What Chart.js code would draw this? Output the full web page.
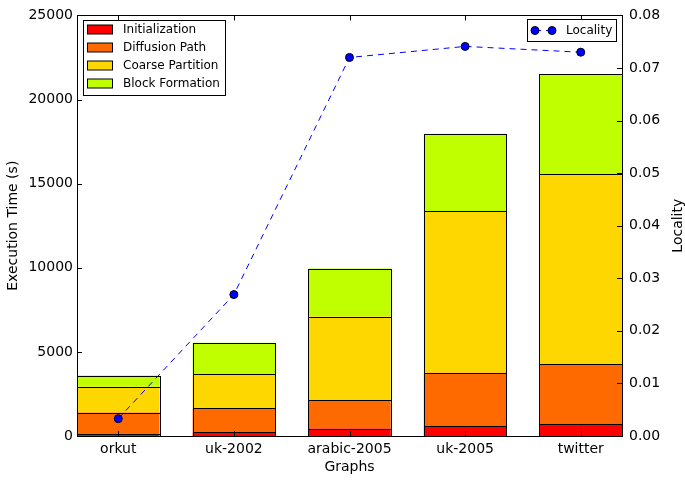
<!DOCTYPE html>
<html>
<head>
<meta charset="utf-8">
<script src="https://cdn.jsdelivr.net/npm/chart.js@4"></script>
<style>
  html, body { margin: 0; padding: 0; background: #fff; }
  #wrap { width: 685px; height: 481px; position: relative; }
</style>
</head>
<body>
<div id="wrap"><canvas id="c"></canvas></div>
<script>
// Execution time breakdown per graph (seconds) and the resulting locality
const categories = ['orkut', 'uk-2002', 'arabic-2005', 'uk-2005', 'twitter'];
const initialization = [120, 210, 440, 620, 740];
const diffusionPath = [1270, 1440, 1700, 3140, 3540];
const coarsePartition = [1540, 2010, 4960, 9600, 11290];
const blockFormation = [660, 1880, 2850, 4600, 5950];
const locality = [0.0033, 0.0269, 0.0720, 0.0741, 0.0730];
const timeTicks = [0, 5000, 10000, 15000, 20000, 25000];
const localityTicks = [0, 0.01, 0.02, 0.03, 0.04, 0.05, 0.06, 0.07, 0.08];

const FONT = 'DejaVu Sans';
const BAR_WIDTH = 0.714;

const toPoints = arr => arr.map((v, i) => ({ x: i, y: v }));

const barSeries = [
  { label: 'Initialization', data: initialization, color: '#ff0000' },
  { label: 'Diffusion Path', data: diffusionPath, color: '#ff6a00' },
  { label: 'Coarse Partition', data: coarsePartition, color: '#ffd700' },
  { label: 'Block Formation', data: blockFormation, color: '#bfff00' }
];

const datasets = barSeries.map(s => ({
  type: 'bar',
  label: s.label,
  data: toPoints(s.data),
  backgroundColor: s.color,
  borderWidth: 0,
  categoryPercentage: 1,
  barPercentage: BAR_WIDTH,
  yAxisID: 'y',
  order: 1
}));

datasets.push({
  type: 'line',
  label: 'Locality',
  data: toPoints(locality),
  yAxisID: 'y2',
  borderColor: '#0000ff',
  borderWidth: 1,
  borderDash: [6, 5],
  pointRadius: 4,
  pointBackgroundColor: '#0000ff',
  pointBorderColor: '#000',
  pointBorderWidth: 1,
  fill: false,
  tension: 0,
  order: 0
});

const half = v => Math.round(v) + 0.5;

// Black outlines centred on each bar segment's edges, drawn before the line
const barOutlines = {
  id: 'barOutlines',
  beforeDatasetDraw(chart, args) {
    if (chart.data.datasets[args.index].type !== 'line') return;
    const { ctx } = chart;
    ctx.save();
    ctx.strokeStyle = '#000';
    ctx.lineWidth = 1;
    chart.data.datasets.forEach((d, di) => {
      if (d.type !== 'bar') return;
      chart.getDatasetMeta(di).data.forEach(bar => {
        const l = half(bar.x - bar.width / 2), r = half(bar.x + bar.width / 2);
        const t = half(bar.y), b = half(bar.base);
        ctx.strokeRect(l, t, r - l, b - t);
      });
    });
    ctx.restore();
  }
};

// Frame, inward tick marks, axis titles and the two boxed legends
const decorations = {
  id: 'decorations',
  afterDatasetsDraw(chart) {
    const { ctx, chartArea: a, scales } = chart;
    ctx.save();
    ctx.strokeStyle = '#000';
    ctx.lineWidth = 1;
    const T = 5;
    ctx.beginPath();
    categories.forEach((_, i) => {
      const x = half(scales.x.getPixelForValue(i));
      ctx.moveTo(x, a.bottom); ctx.lineTo(x, a.bottom - T);
      ctx.moveTo(x, a.top); ctx.lineTo(x, a.top + T);
    });
    timeTicks.forEach(v => {
      const y = half(scales.y.getPixelForValue(v));
      ctx.moveTo(a.left, y); ctx.lineTo(a.left + T, y);
    });
    localityTicks.forEach(v => {
      const y = half(scales.y2.getPixelForValue(v));
      ctx.moveTo(a.right, y); ctx.lineTo(a.right - T, y);
    });
    ctx.stroke();
    ctx.strokeRect(half(a.left), half(a.top),
                   Math.round(a.right - a.left), Math.round(a.bottom - a.top));

    // axis titles
    ctx.fillStyle = '#000';
    ctx.font = '14px "' + FONT + '"';
    ctx.textAlign = 'center';
    ctx.textBaseline = 'middle';
    ctx.fillText('Graphs', (a.left + a.right) / 2, 467);
    const midY = (a.top + a.bottom) / 2;
    ctx.save();
    ctx.translate(13, midY);
    ctx.rotate(-Math.PI / 2);
    ctx.fillText('Execution Time (s)', 0, 0);
    ctx.restore();
    ctx.save();
    ctx.translate(678, midY);
    ctx.rotate(-Math.PI / 2);
    ctx.fillText('Locality', 0, 0);
    ctx.restore();

    // bar legend, upper left
    ctx.font = '12px "' + FONT + '"';
    ctx.textAlign = 'left';
    ctx.fillStyle = '#fff';
    ctx.fillRect(83, 20, 142, 75);
    ctx.strokeRect(83.5, 20.5, 142, 75);
    barSeries.forEach((s, i) => {
      const cy = 29.5 + i * 18;
      ctx.fillStyle = s.color;
      ctx.fillRect(87.5, cy - 4.5, 25, 9);
      ctx.strokeRect(87.5, cy - 4.5, 25, 9);
      ctx.fillStyle = '#000';
      ctx.fillText(s.label, 123, cy + 0.5);
    });

    // line legend, upper right
    ctx.fillStyle = '#fff';
    ctx.fillRect(527, 19, 90, 23);
    ctx.strokeRect(527.5, 19.5, 89, 22);
    ctx.strokeStyle = '#0000ff';
    ctx.setLineDash([6, 5]);
    ctx.beginPath();
    ctx.moveTo(535, 30.5); ctx.lineTo(552, 30.5);
    ctx.stroke();
    ctx.setLineDash([]);
    [535, 552].forEach(x => {
      ctx.beginPath();
      ctx.arc(x, 30.5, 4, 0, Math.PI * 2);
      ctx.fillStyle = '#0000ff';
      ctx.fill();
      ctx.strokeStyle = '#000';
      ctx.stroke();
    });
    ctx.fillStyle = '#000';
    ctx.fillText('Locality', 566, 31);
    ctx.restore();
  }
};

new Chart(document.getElementById('c'), {
  data: { datasets },
  options: {
    responsive: true,
    maintainAspectRatio: false,
    animation: false,
    layout: { padding: { top: 13, left: 0, right: 0, bottom: 0 } },
    plugins: { legend: { display: false }, tooltip: { enabled: false } },
    scales: {
      x: {
        type: 'linear',
        stacked: true,
        offset: false,
        min: -BAR_WIDTH / 2,
        max: categories.length - 1 + BAR_WIDTH / 2,
        grid: { display: false, drawTicks: false, offset: false },
        border: { display: false },
        afterBuildTicks: s => { s.ticks = categories.map((_, i) => ({ value: i })); },
        ticks: {
          autoSkip: false,
          maxRotation: 0,
          padding: 5,
          color: '#000',
          font: { family: FONT, size: 14 },
          callback: v => categories[v]
        },
        afterFit: s => { s.height = 45; }
      },
      y: {
        position: 'left',
        stacked: true,
        min: 0,
        max: 25000,
        grid: { display: false, drawTicks: false },
        border: { display: false },
        afterBuildTicks: s => { s.ticks = timeTicks.map(v => ({ value: v })); },
        ticks: {
          padding: 4,
          color: '#000',
          font: { family: FONT, size: 14 },
          callback: v => String(v)
        },
        afterFit: s => { s.width = 77; }
      },
      y2: {
        position: 'right',
        min: 0,
        max: 0.08,
        grid: { display: false, drawTicks: false },
        border: { display: false },
        afterBuildTicks: s => { s.ticks = localityTicks.map(v => ({ value: v })); },
        ticks: {
          padding: 7,
          color: '#000',
          font: { family: FONT, size: 14 },
          callback: v => v.toFixed(2)
        },
        afterFit: s => { s.width = 63; }
      }
    }
  },
  plugins: [barOutlines, decorations]
});
</script>
</body>
</html>
